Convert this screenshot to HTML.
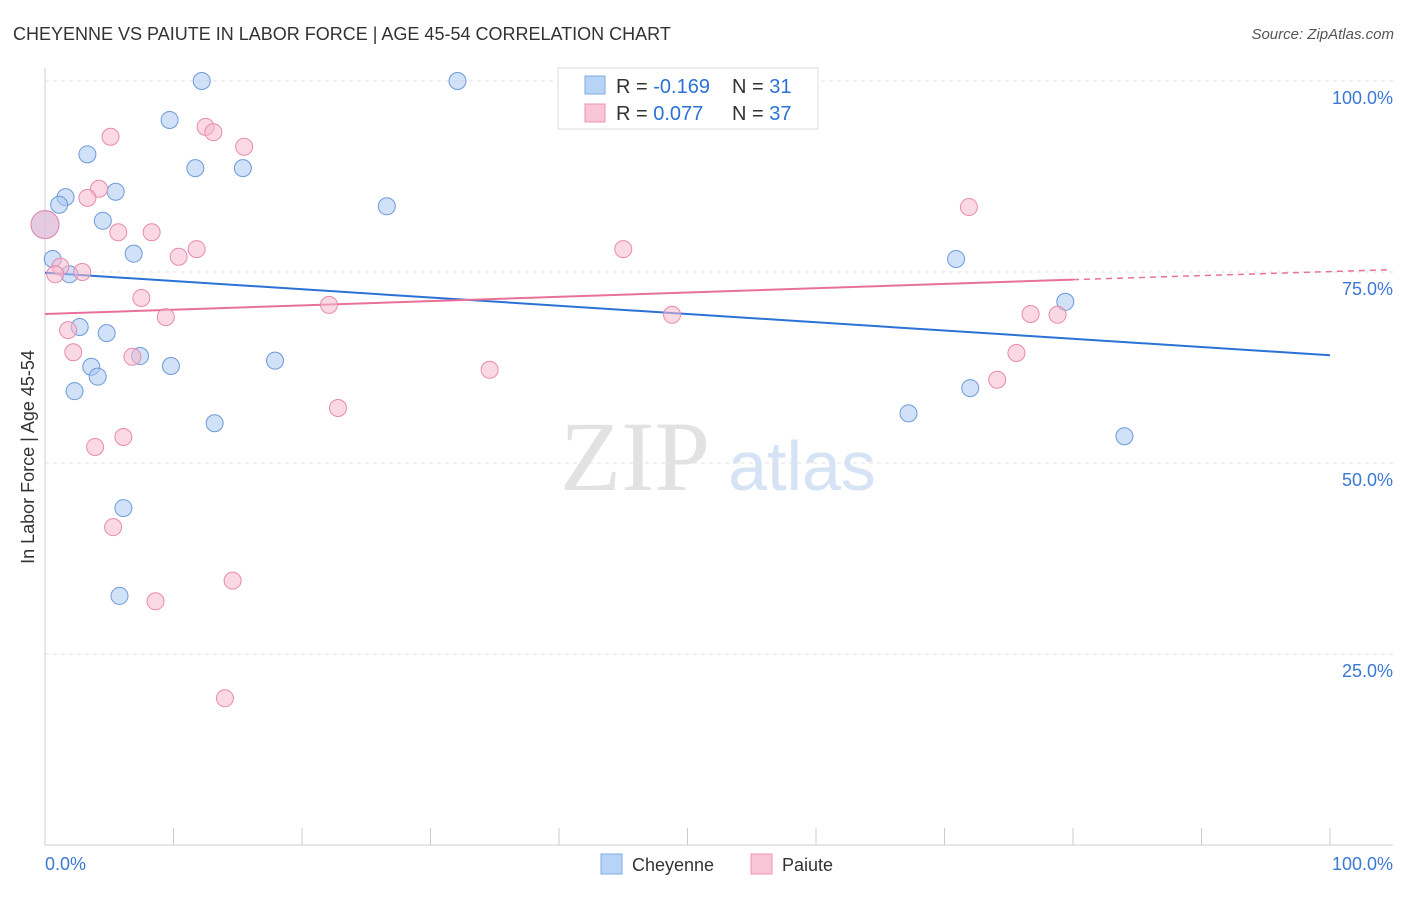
<!DOCTYPE html>
<html><head><meta charset="utf-8"><style>
body{margin:0;background:#fff;font-family:"Liberation Sans",sans-serif;}
</style></head><body>
<svg id="chart" width="1406" height="892" style="font-family:'Liberation Sans',sans-serif">
<text x="13" y="40" font-size="18" fill="#333">CHEYENNE VS PAIUTE IN LABOR FORCE | AGE 45-54 CORRELATION CHART</text>
<text x="1394" y="39" font-size="15" fill="#555" text-anchor="end" font-style="italic">Source: ZipAtlas.com</text>
<g id="grid"></g>
<text x="635" y="490" font-size="100" fill="#e2e2e2" text-anchor="middle" style="font-family:'Liberation Serif',serif">ZIP</text>
<text x="802" y="490" font-size="70" fill="#d5e3f5" text-anchor="middle">atlas</text>
<line x1="45" y1="68" x2="45" y2="845" stroke="#ccc"/>
<line x1="45" y1="845" x2="1393" y2="845" stroke="#ccc"/>
<g id="xticks"></g>
<g id="ylabels"></g>
<text x="34" y="457" font-size="18" fill="#333" text-anchor="middle" transform="rotate(-90 34 457)">In Labor Force | Age 45-54</text>
<text x="45" y="870" font-size="18" fill="#3b78d4">0.0%</text>
<text x="1393" y="870" font-size="18" fill="#3b78d4" text-anchor="end">100.0%</text>
<g id="lines"></g>
<g id="points"></g>
<g>
<rect x="558" y="68" width="260" height="61" fill="#fff" stroke="#ddd"/>
<rect x="585" y="76" width="20" height="18" fill="#b7d3f5" stroke="#7fa9e0"/>
<rect x="585" y="104" width="20" height="18" fill="#f8c6d6" stroke="#eb94b4"/>
<text x="616" y="93" font-size="20" fill="#333">R = <tspan fill="#2a72d6">-0.169</tspan></text>
<text x="732" y="93" font-size="20" fill="#333">N = <tspan fill="#2a72d6"> 31</tspan></text>
<text x="616" y="120" font-size="20" fill="#333">R = <tspan fill="#2a72d6"> 0.077</tspan></text>
<text x="732" y="120" font-size="20" fill="#333">N = <tspan fill="#2a72d6">37</tspan></text>
</g>
<g>
<rect x="601" y="854" width="21" height="20" fill="#b7d3f5" stroke="#7fa9e0"/>
<text x="632" y="871" font-size="18" fill="#333">Cheyenne</text>
<rect x="751" y="854" width="21" height="20" fill="#f8c6d6" stroke="#eb94b4"/>
<text x="782" y="871" font-size="18" fill="#333">Paiute</text>
</g>
</svg>
<script>
const yTicks=[100,75,50,25];
const yTickLabels=["100.0%","75.0%","50.0%","25.0%"];
const xTicks=[0,10,20,30,40,50,60,70,80,90,100];
const cheyenneX=[0,12.2,32.1,9.7,3.3,11.7,15.4,1.6,5.5,1.1,4.5,26.6,6.9,0.6,1.9,70.9,79.4,2.7,4.8,7.4,3.6,9.8,4.1,17.9,2.3,72.0,67.2,13.2,84.0,6.1,5.8];
const cheyenneY=[81.2,100,100,94.9,90.4,88.6,88.6,84.8,85.5,83.8,81.7,83.6,77.4,76.7,74.7,76.7,71.1,67.8,67.0,64.0,62.6,62.7,61.3,63.4,59.4,59.8,56.5,55.2,53.5,44.1,32.6];
const paiuteX=[0,45.5,46.1,5.1,12.5,13.1,15.5,4.2,3.3,71.9,5.7,8.3,11.8,10.4,45.0,1.2,0.8,2.9,7.5,22.1,9.4,48.8,76.7,78.8,1.8,2.2,6.8,75.6,34.6,74.1,22.8,6.1,3.9,5.3,14.6,8.6,14.0];
const paiuteY=[81.2,100,100,92.7,94.0,93.3,91.4,85.9,84.7,83.5,80.2,80.2,78.0,77.0,78.0,75.7,74.7,75.0,71.6,70.7,69.1,69.4,69.5,69.4,67.4,64.5,63.9,64.4,62.2,60.9,57.2,53.4,52.1,41.6,34.6,31.9,19.2];
const cheyenneTrend=[74.9,64.1];
const paiuteTrend=[69.5,74.0,75.3];
const NS="http://www.w3.org/2000/svg";
const X=v=>45+v*12.85, Y=v=>845-v*7.64;
function mk(t,a,p){const e=document.createElementNS(NS,t);for(const k in a)e.setAttribute(k,a[k]);p.appendChild(e);return e;}
const grid=document.getElementById('grid'),yl=document.getElementById('ylabels');
yTicks.forEach((t,i)=>{
 const l=mk('line',{x1:45,x2:1393,y1:Y(t),y2:Y(t),stroke:'#e2e2e2','stroke-dasharray':'4,4'},grid);
 
 
 const tx=mk('text',{x:1393,y:Y(t)+23,'font-size':18,fill:'#3b78d4','text-anchor':'end'},yl);
 tx.textContent=yTickLabels[i];
 
 
});
const xt=document.getElementById('xticks');
xTicks.forEach(t=>{const l=mk('line',{x1:X(t),x2:X(t),y1:828,y2:845,stroke:'#ccc'},xt);
 
 });
const ln=document.getElementById('lines');
let a=mk('line',{x1:X(0),y1:Y(cheyenneTrend[0]),x2:X(100),y2:Y(cheyenneTrend[1]),stroke:'#2a72d6','stroke-width':2},ln);


a=mk('line',{x1:X(0),y1:Y(paiuteTrend[0]),x2:X(80),y2:Y(paiuteTrend[1]),stroke:'#e8719a','stroke-width':2},ln);


a=mk('line',{x1:X(80),y1:Y(paiuteTrend[1]),x2:X(104.6),y2:Y(paiuteTrend[2]),stroke:'#e8719a','stroke-width':1.5,'stroke-dasharray':'6,5'},ln);


const pts=document.getElementById('points');
function draw(xs,ys,fill,stroke,name){xs.forEach((x,i)=>{
 const r=(i===0)?14:8.5;
 const c=mk('circle',{cx:X(x),cy:Y(ys[i]),r:r,fill:fill,'fill-opacity':0.55,stroke:stroke,'stroke-width':1},pts);
 
 
});}
draw(cheyenneX,cheyenneY,'#a9c9f2','#6d9ad8','cheyenne-point');
draw(paiuteX,paiuteY,'#f6b9cd','#e88aae','paiute-point');
</script>
</body></html>
